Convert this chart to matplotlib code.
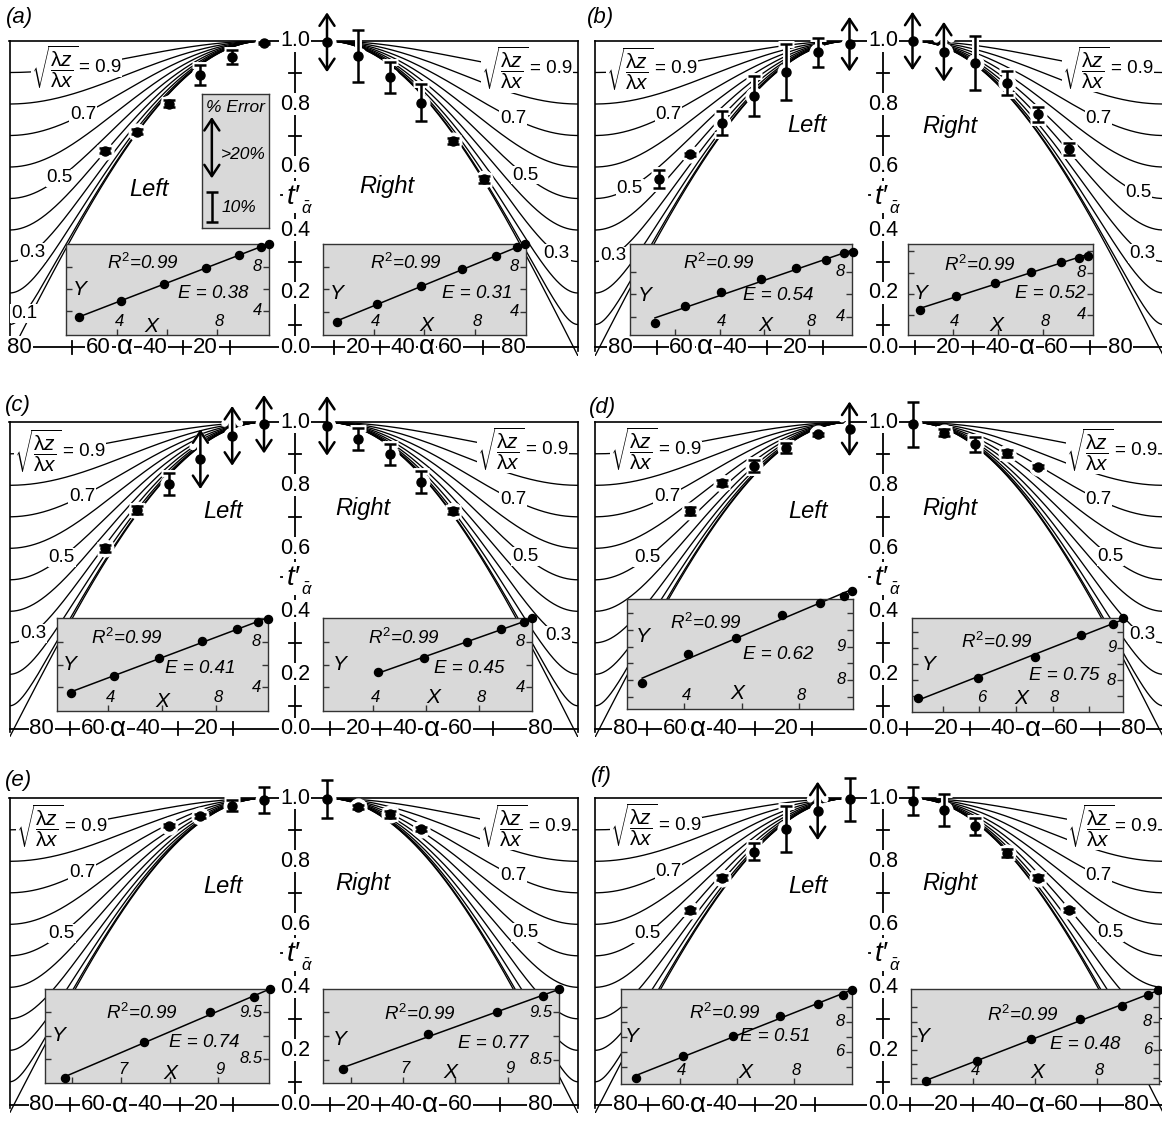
import matplotlib
matplotlib.use("Agg")
import matplotlib.pyplot as plt
import numpy as np
from matplotlib import font_manager, transforms

_names = {f.name for f in font_manager.fontManager.ttflist}
FONT = "Liberation Sans Narrow" if "Liberation Sans Narrow" in _names else "Liberation Sans"

plt.rcParams.update({
    "font.family": [FONT, "DejaVu Sans"],
    "mathtext.fontset": "custom",
    "mathtext.rm": FONT,
    "mathtext.it": FONT + ":italic",
    "mathtext.bf": FONT + ":bold",
    "axes.linewidth": 1.2,
})

W, H = 1162, 1127

# reference curves, labelled by sqrt(lambda_z / lambda_x)
RATIOS = [0.0, 0.1, 0.2, 0.3, 0.4, 0.5, 0.6, 0.7, 0.8, 0.9]
# dip of the tangent at which the thickness was measured
ALPHA_PTS = [0.0, 11.25, 22.5, 33.75, 45.0, 56.25, 67.5]

# measured t'α, half error, kind (I = error bar, A = error > 20 %)
a_left_t = [0.993, 0.950, 0.892, 0.801, 0.712, 0.651]
a_left_err = [0.004, 0.022, 0.032, 0.012, 0.008, 0.008]
a_left_kind = "IIIIII"
a_right_t = [0.996, 0.952, 0.885, 0.804, 0.682, 0.561]
a_right_err = [0.095, 0.082, 0.049, 0.058, 0.010, 0.012]
a_right_kind = "AIIIII"
b_left_t = [0.990, 0.964, 0.903, 0.825, 0.739, 0.640, 0.562]
b_left_err = [0.087, 0.046, 0.089, 0.064, 0.038, 0.006, 0.029]
b_left_kind = "AIIIIII"
b_right_t = [1.0, 0.966, 0.931, 0.868, 0.768, 0.656]
b_right_err = [0.093, 0.095, 0.086, 0.038, 0.024, 0.019]
b_right_kind = "AAIIII"
c_left_t = [0.994, 0.957, 0.883, 0.804, 0.722, 0.600]
c_left_err = [0.093, 0.095, 0.095, 0.034, 0.012, 0.011]
c_left_kind = "AAAIII"
c_right_t = [0.989, 0.947, 0.898, 0.811, 0.718]
c_right_err = [0.095, 0.036, 0.033, 0.034, 0.010]
c_right_kind = "AIIII"
d_left_t = [0.979, 0.962, 0.917, 0.862, 0.808, 0.718]
d_left_err = [0.087, 0.004, 0.016, 0.019, 0.010, 0.013]
d_left_kind = "AIIIII"
d_right_t = [0.994, 0.967, 0.930, 0.902, 0.859]
d_right_err = [0.072, 0.012, 0.023, 0.011, 0.005]
d_right_kind = "IIIII"
e_left_t = [0.995, 0.977, 0.944, 0.913]
e_left_err = [0.041, 0.018, 0.006, 0.005]
e_left_kind = "IIII"
e_right_t = [0.997, 0.973, 0.949, 0.903]
e_right_err = [0.060, 0.006, 0.011, 0.006]
e_right_kind = "IIII"
f_left_t = [0.997, 0.960, 0.903, 0.830, 0.748, 0.645]
f_left_err = [0.068, 0.093, 0.072, 0.027, 0.007, 0.008]
f_left_kind = "IAIIII"
f_right_t = [0.992, 0.963, 0.912, 0.827, 0.748, 0.646]
f_right_err = [0.044, 0.050, 0.027, 0.013, 0.007, 0.007]
f_right_kind = "IIIIII"

# inset regressions (X, Y)
aL_x = [2.47, 4.15, 5.87, 7.53, 8.85, 9.73, 10.05]
aL_y = [3.45, 4.88, 6.42, 7.91, 9.03, 9.82, 10.03]
aR_x = [2.56, 4.13, 5.88, 7.48, 8.83, 9.64, 9.97]
aR_y = [3.11, 4.68, 6.31, 7.76, 8.98, 9.72, 9.99]
bL_x = [1.08, 2.43, 4.04, 5.83, 7.42, 8.75, 9.59, 9.99]
bL_y = [3.47, 4.95, 6.16, 7.32, 8.36, 9.04, 9.63, 9.72]
bR_x = [2.56, 4.15, 5.87, 7.46, 8.78, 9.59, 9.96]
bR_y = [4.47, 5.83, 6.99, 8.09, 8.98, 9.42, 9.61]
cL_x = [2.61, 4.21, 5.89, 7.47, 8.77, 9.57, 9.92]
cL_y = [3.53, 4.99, 6.60, 8.09, 9.11, 9.75, 9.96]
cR_x = [4.19, 5.92, 7.53, 8.82, 9.68, 10.02]
cR_y = [5.31, 6.60, 7.94, 9.08, 9.75, 10.04]
dL_x = [2.53, 4.12, 5.80, 7.42, 8.73, 9.55, 9.84]
dL_y = [7.90, 8.77, 9.27, 9.95, 10.32, 10.53, 10.67]
dR_x = [4.31, 5.95, 7.52, 8.77, 9.64, 9.93]
dR_y = [7.43, 8.07, 8.70, 9.39, 9.75, 9.91]
eL_x = [5.85, 7.48, 8.83, 9.73, 10.06]
eL_y = [8.10, 8.86, 9.50, 9.82, 9.99]
eR_x = [5.84, 7.47, 8.79, 9.68, 9.99]
eR_y = [8.30, 9.04, 9.51, 9.83, 9.98]
fL_x = [2.45, 4.09, 5.84, 7.50, 8.84, 9.68, 10.00]
fL_y = [4.27, 5.71, 7.04, 8.38, 9.18, 9.78, 10.11]
fR_x = [2.47, 4.11, 5.85, 7.44, 8.81, 9.65, 9.97]
fR_y = [3.81, 5.25, 6.75, 8.16, 9.13, 9.88, 10.24]

E_VALUES = ["0.38", "0.31", "0.54", "0.52", "0.41", "0.45",
            "0.62", "0.75", "0.74", "0.77", "0.51", "0.48"]
INSET_XT = [[4, 8], [4, 8], [4, 8], [4, 8], [4, 8], [4, 8],
            [4, 8], [6, 8], [7, 9], [7, 9], [4, 8], [4, 8]]
INSET_YT = [[4, 8], [4, 8], [4, 8], [4, 8], [4, 8], [4, 8],
            [8, 9], [8, 9], [8.5, 9.5], [8.5, 9.5], [6, 8], [6, 8]]

# x-axis row labels (text and pixel offset inside each panel)
XROW_TXT = ["80", "+", "60", "α", "40", "+", "20", "+",
            "+", "20", "+", "40", "α", "60", "+", "80"]
xrow_a = [10, 62, 89, 115.5, 145.5, 173, 196, 220.5, 324.5, 348.5, 370.5, 393.5, 417.5, 440.5, 473.5, 503.5]
xrow_b = [25, 61.7, 86.7, 110, 140, 171.7, 200, 228.3, 320, 353.3, 378.3, 403.3, 431.7, 461.7, 495, 525]
xrow_c = [32.2, 60.5, 83.8, 108.8, 138.8, 168.8, 197.2, 223.8, 320.5, 348.8, 370.5, 395.5, 422.2, 450.5, 483.8, 530.5]
xrow_d = [30, 51.7, 80, 103.3, 130, 160, 191.7, 216.7, 311.7, 351.7, 375, 408.3, 438.3, 471.7, 505, 538.3]
xrow_e = [32.2, 60.5, 83.8, 110.5, 140.5, 170.5, 197.2, 223.8, 320.5, 348.8, 370.5, 393.8, 420.5, 450.5, 490.5, 530.5]
xrow_f = [30, 53.3, 78.3, 103.3, 130, 160, 191.7, 220, 315, 351.7, 378.3, 408.3, 441.7, 471.7, 505, 541.7]

CENTER_TXT = ["1.0", "0.8", "0.6", "0.4", "0.2"]
CENTER_VAL = [1.0, 0.8, 0.6, 0.4, 0.2]
CENTER_PLUS = [0.9, 0.7, 0.3, 0.1]

# ---------------- layout (pixels) ----------------
COL_X0 = [9.5, 595]
ROW_TOP = [41, 422.3, 798.3]
HALF_L, GAP_R, HALF_R, PANEL_W, PANEL_H = 254.5, 317.5, 251, 568.5, 315
CENTER_X = [285.5, 288]
ROW_Y = 0.027
GRAY = "#d9d9d9"
WHITE = dict(facecolor="white", edgecolor="none", pad=0.5)
SQRT_TXT = r"$\sqrt{\dfrac{\mathrm{\lambda} z}{\mathrm{\lambda} x}}$"

PANELS = [
    ("(a)", 0, 0, (a_left_t, a_left_err, a_left_kind), (a_right_t, a_right_err, a_right_kind),
     [(0.9, 67.4), (0.7, 64), (0.5, 72.3), (0.3, 82), (0.1, 84.8)],
     [(0.9, 70.6), (0.7, 66.7), (0.5, 71), (0.3, 82.4)], xrow_a,
     (139.8, 148.3), (377.2, 145.7), (10.5, -23)),
    ("(b)", 1, 0, (b_left_t, b_left_err, b_left_kind), (b_right_t, b_right_err, b_right_kind),
     [(0.9, 71), (0.7, 64), (0.5, 77.7), (0.3, 83.7)],
     [(0.9, 69), (0.7, 66.7), (0.5, 81), (0.3, 82.4)], xrow_b,
     (211.7, 84), (355, 85), (6, -24)),
    ("(c)", 0, 1, (c_left_t, c_left_err, c_left_kind), (c_right_t, c_right_err, c_right_kind),
     [(0.9, 73.2), (0.7, 64.4), (0.5, 71.5), (0.3, 81.7)],
     [(0.9, 69.2), (0.7, 66.7), (0.5, 71), (0.3, 82.8)], xrow_c,
     (213.8, 88.7), (353.8, 86), (8.8, -17)),
    ("(d)", 1, 1, (d_left_t, d_left_err, d_left_kind), (d_right_t, d_right_err, d_right_kind),
     [(0.9, 69.5), (0.7, 64.5), (0.5, 71.6)],
     [(0.9, 70.3), (0.7, 66.7), (0.5, 71), (0.3, 82.4)], xrow_d,
     (212.7, 89.4), (355, 86), (8, -15)),
    ("(e)", 0, 2, (e_left_t, e_left_err, e_left_kind), (e_right_t, e_right_err, e_right_kind),
     [(0.9, 72.5), (0.7, 64.4), (0.5, 71.5)],
     [(0.9, 70.3), (0.7, 66.7), (0.5, 71)], xrow_e,
     (213.2, 88.4), (353.8, 85), (8.8, -18)),
    ("(f)", 1, 2, (f_left_t, f_left_err, f_left_kind), (f_right_t, f_right_err, f_right_kind),
     [(0.9, 69.5), (0.7, 64), (0.5, 71.6)],
     [(0.9, 70.6), (0.7, 66.7), (0.5, 71)], xrow_f,
     (212.7, 88.4), (355, 85), (6.7, -22)),
]

INSETS = [
    ((65.7, 244.3, 203.6, 90.7), (1.93, 10.08, 1.79, 10.03), aL_x, aL_y,
     [(0.38, 0.79), (0.725, 0.46), (0.07, 0.5), (0.42, 0.09)]),
    ((322.7, 244.3, 203.3, 90.7), (2.0, 10.0, 1.93, 9.99), aR_x, aR_y,
     [(0.41, 0.79), (0.76, 0.46), (0.07, 0.46), (0.51, 0.11)]),
    ((630, 244.3, 221.7, 90.7), (-0.04, 9.92, 2.37, 10.43), bL_x, bL_y,
     [(0.40, 0.79), (0.67, 0.44), (0.065, 0.43), (0.61, 0.11)]),
    ((908.3, 244.3, 184.4, 90.7), (2.04, 10.18, 2.11, 10.68), bR_x, bR_y,
     [(0.39, 0.77), (0.77, 0.46), (0.07, 0.46), (0.48, 0.11)]),
    ((56.7, 617.7, 211.6, 93.3), (2.08, 9.94, 1.93, 10.1), cL_x, cL_y,
     [(0.33, 0.78), (0.68, 0.46), (0.063, 0.5), (0.50, 0.10)]),
    ((322.7, 617.7, 209, 93.3), (2.08, 9.99, 1.93, 10.1), cR_x, cR_y,
     [(0.39, 0.78), (0.70, 0.46), (0.083, 0.5), (0.53, 0.14)]),
    ((626.7, 599, 226, 110.3), (1.99, 9.87, 7.12, 10.43), dL_x, dL_y,
     [(0.35, 0.78), (0.67, 0.50), (0.07, 0.66), (0.49, 0.145)]),
    ((911.7, 617.7, 211.6, 94), (4.15, 9.93, 7.02, 9.93), dR_x, dR_y,
     [(0.40, 0.745), (0.72, 0.39), (0.08, 0.5), (0.52, 0.14)]),
    ((45, 989.3, 224.3, 94), (5.45, 10.04, 7.98, 9.99), eL_x, eL_y,
     [(0.43, 0.745), (0.71, 0.43), (0.06, 0.51), (0.56, 0.10)]),
    ((323.3, 989.3, 236, 93.4), (5.47, 9.99, 8.02, 9.98), eR_x, eR_y,
     [(0.41, 0.74), (0.72, 0.42), (0.07, 0.46), (0.54, 0.11)]),
    ((621, 989.3, 230.7, 95), (1.94, 10.0, 3.82, 10.16), fL_x, fL_y,
     [(0.45, 0.75), (0.67, 0.50), (0.046, 0.5), (0.54, 0.12)]),
    ((910.7, 989.3, 248.6, 95), (1.98, 10.0, 3.58, 10.28), fR_x, fR_y,
     [(0.45, 0.73), (0.70, 0.42), (0.05, 0.5), (0.51, 0.12)]),
]


def px_rect(x, y, w, h):
    return [x / W, 1 - (y + h) / H, w / W, h / H]


def t_curve(alpha, r):
    a = np.radians(alpha)
    return np.sqrt(np.cos(a) ** 2 + (r * np.sin(a)) ** 2)


fig = plt.figure(figsize=(W / 100, H / 100), dpi=100)


def draw_half(x, y, side, data, lbls):
    t, err, kind = data
    w = HALF_L if side == "L" else HALF_R
    ax = fig.add_axes(px_rect(x, y, w, PANEL_H))
    ax.set_xlim((90, 0) if side == "L" else (0, 90))
    ax.set_ylim(0, 1)
    ax.patch.set_alpha(0)
    for s in ax.spines.values():
        s.set_visible(False)
    ax.spines["top"].set_visible(True)
    edge = "left" if side == "L" else "right"
    ax.spines[edge].set_visible(True)
    ax.spines[edge].set_bounds(ROW_Y - 0.01, 1)
    ax.set_xticks([])
    ax.set_yticks([])
    aa = np.linspace(0, 90, 400)
    for r in RATIOS:
        ax.plot(aa, t_curve(aa, r), color="k", lw=0.95, zorder=2)
    for r, al in lbls:
        if r == 0.9:
            ax.text(al, t_curve(al, r), SQRT_TXT, ha="right", va="center", fontsize=15,
                    bbox=dict(facecolor="white", edgecolor="none", pad=0.2), zorder=3,
                    transform=transforms.offset_copy(ax.transData, fig=fig, x=5, y=0, units="dots"))
            ax.text(al, t_curve(al, r), "= 0.9", ha="left", va="center", fontsize=13.5,
                    bbox=WHITE, zorder=3,
                    transform=transforms.offset_copy(ax.transData, fig=fig, x=6, y=0, units="dots"))
        else:
            ax.text(al, t_curve(al, r), f"{r:.1f}", ha="center", va="center", fontsize=13.5,
                    bbox=WHITE, zorder=3)
    al = np.array(ALPHA_PTS[:len(t)])
    for a_, t_, e_, k_ in zip(al, t, err, kind):
        if k_ == "A":
            for c, lw, z in (("white", 5, 4), ("k", 1.8, 5)):
                ax.annotate("", xy=(a_, t_ + e_), xytext=(a_, t_ - e_),
                            arrowprops=dict(arrowstyle="<->,head_length=0.45,head_width=0.3",
                                            color=c, lw=lw, shrinkA=0, shrinkB=0,
                                            mutation_scale=18),
                            annotation_clip=False, zorder=z)
        else:
            for c, lw, cs, z in (("white", 5, 6, 4), ("k", 1.8, 4.5, 5)):
                eb = ax.errorbar(a_, t_, yerr=e_, fmt="none", ecolor=c, elinewidth=lw,
                                 capsize=cs, capthick=lw, zorder=z)
                for art in list(eb.lines[1]) + list(eb.lines[2]):
                    art.set_clip_on(False)
    ax.plot(al, t, "o", ms=12, color="white", zorder=4, clip_on=False)
    ax.plot(al, t, "o", ms=6.5, color="k", zorder=6, clip_on=False)
    return ax


def draw_frame(x0, y0, cx, xrow, lpos, rpos, name, npos):
    fa = fig.add_axes(px_rect(x0, y0, PANEL_W, PANEL_H))
    fa.set_xlim(0, PANEL_W)
    fa.set_ylim(0, 1)
    fa.axis("off")
    kw = dict(color="k", lw=1.3, clip_on=False)
    fa.plot([0, PANEL_W], [ROW_Y, ROW_Y], **kw)
    fa.plot([cx, cx], [ROW_Y, 1.0], **kw)
    fa.plot([HALF_L, GAP_R], [1.0, 1.0], **kw)
    for txt, xp in zip(XROW_TXT, xrow):
        if txt == "+":
            fa.plot([xp, xp], [ROW_Y - 0.02, ROW_Y + 0.02], **kw)
        else:
            fa.text(xp, ROW_Y, txt, ha="center", va="center",
                    fontsize=20 if txt == "α" else 16, bbox=WHITE, clip_on=False)
    for txt, v in zip(CENTER_TXT, CENTER_VAL):
        fa.text(cx, v, txt, ha="center", va="center", fontsize=15.5, bbox=WHITE)
    fa.text(cx, ROW_Y, "0.0", ha="center", va="center", fontsize=15.5, bbox=WHITE)
    for v in CENTER_PLUS:
        fa.plot([cx - 6, cx + 6], [v, v], **kw)
    # t'α label on the middle axis
    fa.text(cx - 2, 0.505, "t\u2032", ha="center", va="center", fontsize=20,
            style="italic", bbox=dict(facecolor="white", edgecolor="none", pad=2.5))
    fa.text(cx + 6, 0.505, r"$\bar{\alpha}$", ha="left", va="center", fontsize=12,
            transform=transforms.offset_copy(fa.transData, fig=fig, x=0, y=-12, units="dots"))
    fa.plot([cx - 14, cx - 10], [0.51, 0.51], **kw)
    fa.text(lpos[0], 1 - lpos[1] / PANEL_H, "Left", ha="center", va="center",
            fontsize=17, style="italic")
    fa.text(rpos[0], 1 - rpos[1] / PANEL_H, "Right", ha="center", va="center",
            fontsize=17, style="italic")
    fa.text(npos[0], 1 - npos[1] / PANEL_H, name, ha="center", va="center",
            fontsize=16, style="italic", clip_on=False)


def draw_inset(box, lim, xs, ys, pos, xt, yt, e_txt):
    ax = fig.add_axes(px_rect(*box))
    ax.set_facecolor(GRAY)
    ax.set_xlim(lim[0], lim[1])
    ax.set_ylim(lim[2], lim[3])
    for s in ax.spines.values():
        s.set_linewidth(1.0)
        s.set_color("#333333")
    p = np.polyfit(xs, ys, 1)
    xx = np.array([xs[0], xs[-1]])
    ax.plot(xx, np.polyval(p, xx), color="k", lw=1.1, zorder=2, clip_on=False)
    ax.plot(xs, ys, "o", color="k", ms=5.8, zorder=3, clip_on=False)
    xstep = (xt[1] - xt[0]) / 2
    ystep = (yt[1] - yt[0]) / 2
    xticks = [v for v in np.arange(xt[0] - 4 * xstep, lim[1], xstep)
              if lim[0] + 0.3 * xstep < v < lim[1] - 0.3 * xstep]
    yticks = [v for v in np.arange(yt[0] - 6 * ystep, lim[3], ystep)
              if lim[2] + 0.3 * ystep < v < lim[3] - 0.3 * ystep]
    ax.set_xticks(xticks)
    ax.set_yticks(yticks)
    ax.tick_params(direction="in", length=4, width=1, color="#333333",
                   bottom=True, top=False, left=True, right=True,
                   labelbottom=False, labelleft=False)
    tx = transforms.blended_transform_factory(ax.transData, ax.transAxes)
    ty = transforms.blended_transform_factory(ax.transAxes, ax.transData)
    for v in xt:
        ax.text(v, 0, f"{v:g}", transform=transforms.offset_copy(tx, fig=fig, x=2, y=14, units="dots"),
                ha="center", va="center", fontsize=12, style="italic")
    for v in yt:
        ax.text(1, v, f"{v:g}", transform=transforms.offset_copy(ty, fig=fig, x=-7, y=0, units="dots"),
                ha="right", va="center", fontsize=12, style="italic")
    it = dict(transform=ax.transAxes, ha="center", va="center", style="italic")
    ax.text(*pos[0], r"$R^2$=0.99", fontsize=13.5, **it)
    ax.text(*pos[1], "E = " + e_txt, fontsize=13.5, **it)
    ax.text(*pos[2], "Y", fontsize=15, **it)
    ax.text(*pos[3], "X", fontsize=15, **it)


for name, col, row, ldata, rdata, llbl, rlbl, xrow, lpos, rpos, npos in PANELS:
    x0, y0 = COL_X0[col], ROW_TOP[row]
    draw_half(x0, y0, "L", ldata, llbl)
    draw_half(x0 + GAP_R, y0, "R", rdata, rlbl)
    draw_frame(x0, y0, CENTER_X[col], xrow, lpos, rpos, name, npos)

for i, (box, lim, xs, ys, pos) in enumerate(INSETS):
    draw_inset(box, lim, xs, ys, pos, INSET_XT[i], INSET_YT[i], E_VALUES[i])

# % Error key in panel (a)
lg = fig.add_axes(px_rect(201.7, 94.3, 67.6, 133.4))
lg.set_facecolor(GRAY)
lg.set_xlim(0, 1)
lg.set_ylim(0, 1)
lg.set_xticks([])
lg.set_yticks([])
for s in lg.spines.values():
    s.set_linewidth(1.0)
    s.set_color("#333333")
lg.text(0.5, 0.9, "% Error", ha="center", va="center", fontsize=12.5, style="italic")
lg.annotate("", xy=(0.15, 0.83), xytext=(0.15, 0.37),
            arrowprops=dict(arrowstyle="<->,head_length=0.45,head_width=0.3", color="k",
                            lw=1.8, shrinkA=0, shrinkB=0, mutation_scale=18))
lg.text(0.62, 0.55, ">20%", ha="center", va="center", fontsize=12.5, style="italic")
lg.errorbar(0.15, 0.155, yerr=0.115, fmt="none", ecolor="k", elinewidth=1.8,
            capsize=4.5, capthick=1.8)
lg.text(0.55, 0.15, "10%", ha="center", va="center", fontsize=12.5, style="italic")

fig.savefig("out.png", dpi=100)
